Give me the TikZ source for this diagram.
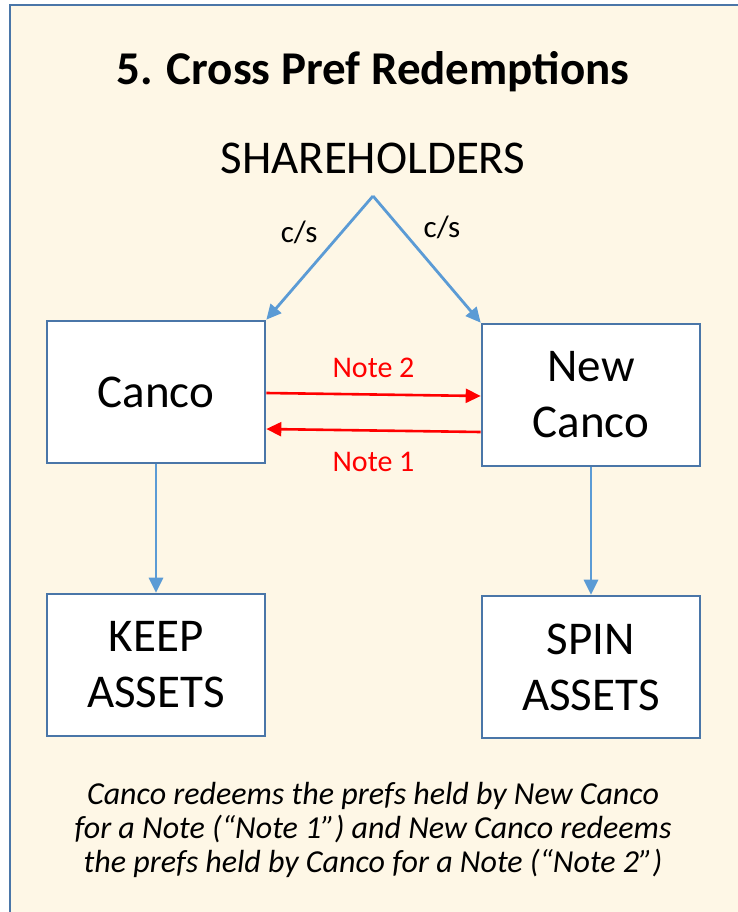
\documentclass[tikz,border=0pt]{standalone}
\usepackage{fontspec}
\setmainfont{Carlito}
\usepackage{xcolor}
\usetikzlibrary{arrows.meta, positioning}
\definecolor{panelbg}{HTML}{FEF7E6}
\definecolor{frameblue}{HTML}{4A76A8}
\definecolor{arrowblue}{HTML}{5B9BD5}
\tikzstyle{entity} = [rectangle, draw=frameblue, line width=2.6pt, fill=white, align=center, minimum width=218pt, minimum height=142pt, inner sep=0pt, font=\fontsize{47}{56}\selectfont]
\tikzstyle{flow} = [draw=arrowblue, line width=2.8pt, -{Triangle[length=15pt, width=14pt]}]
\tikzstyle{note} = [draw=red, line width=2.6pt, -{Triangle[length=15pt, width=14pt]}]

\begin{document}
\begin{tikzpicture}[x=1pt, y=-1pt]
            % Panel
            \useasboundingbox (0,0) rectangle (738,912);
            \begin{scope}
            \clip (0,0) rectangle (738,912);
            \fill[white] (0,0) rectangle (738,912);
            \draw[frameblue, line width=2.6pt, fill=panelbg] (10,5) rectangle (760,940);
            \end{scope}

            % Nodes
            \node[font=\fontsize{47}{56}\selectfont\bfseries] (title) at (373,72) {5. Cross Pref Redemptions};
            \node[font=\fontsize{47}{56}\selectfont, inner sep=0pt] (holders) at (373,158) {SHAREHOLDERS};
            \coordinate (apex) at (373,196);
            \node[entity] (canco) at (156,392) {Canco};
            \node[entity] (newco) at (591,395) {New\\Canco};
            \node[entity] (keep) at (156,665) {KEEP\\ASSETS};
            \node[entity] (spin) at (591,667) {SPIN\\ASSETS};

            % Edges
            \draw[flow] (apex) -- node[pos=0.45, above left=4pt, font=\fontsize{31}{36}\selectfont] {c/s} (canco.north east);
            \draw[flow] (apex) -- node[pos=0.4, above right=4pt, font=\fontsize{31}{36}\selectfont] {c/s} (newco.north west);
            \draw[note] ([yshift=-1pt]canco.east) -- node[above=12pt, text=red, font=\fontsize{30}{36}\selectfont] {Note 2} ([yshift=-1pt]newco.west);
            \draw[note] ([yshift=-37pt]newco.west) -- node[below=17pt, text=red, font=\fontsize{30}{36}\selectfont] {Note 1} ([yshift=-37pt]canco.east);
            \draw[flow] (canco) -- (keep);
            \draw[flow] (newco) -- (spin);

            % Caption
            \node[font=\fontsize{32}{34}\selectfont\itshape, align=center] (caption) at (373,830) {Canco redeems the prefs held by New Canco\\for a Note (“Note 1”) and New Canco redeems\\the prefs held by Canco for a Note (“Note 2”)};
        \end{tikzpicture}
\end{document}
